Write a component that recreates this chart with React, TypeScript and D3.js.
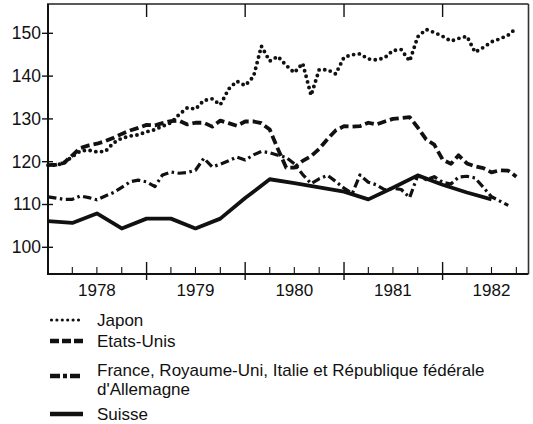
import React, { useEffect, useRef } from 'react';
import * as d3 from 'd3';

// monthly series, Jan 1978 .. Oct 1982
const japon = [
  119.2, 119.2, 119.7, 121.2, 122.5, 122.7, 122.3, 122.4, 124.4, 125.5, 126.0, 126.3,
  127.0, 127.5, 128.3, 129.1, 131.0, 132.6, 132.3, 134.3, 134.7, 133.3, 137.0, 138.8,
  137.8, 139.9, 147.0, 143.5, 144.6, 142.5, 140.8, 143.0, 135.5, 141.5, 141.5, 140.5,
  144.4, 145.0, 145.2, 144.0, 143.8, 144.3, 146.0, 146.2, 143.5, 149.2, 150.9, 150.2,
  149.3, 148.2, 148.8, 149.3, 145.6, 146.7, 148.0, 148.7, 149.6, 151.2,
];
const etatsUnis = [
  119.2, 119.3, 119.7, 121.5, 123.2, 123.8, 124.2, 124.8, 125.6, 126.5, 127.3, 127.9,
  128.6, 128.5, 129.0, 129.5, 129.6, 128.7, 129.1, 129.1, 128.2, 129.6, 129.0, 128.4,
  129.4, 129.4, 129.0, 127.5, 123.0, 118.6, 118.6, 120.2, 121.3, 123.0, 125.3, 127.3,
  128.3, 128.2, 128.3, 129.1, 128.7, 129.4, 130.0, 130.2, 130.4, 128.0, 125.2, 124.0,
  120.5, 119.5, 121.5, 119.6, 118.9, 118.5, 117.5, 118.0, 117.9, 116.5,
];
const europe = [
  111.8, 111.5, 111.2, 111.2, 112.0, 111.6, 111.1, 112.0, 112.8, 114.0, 115.3, 115.7,
  115.3, 114.2, 116.9, 117.6, 117.3, 117.5, 118.0, 120.8, 118.8, 119.4, 120.2, 121.1,
  120.4, 121.6, 122.4, 122.1, 121.5, 121.0, 119.5, 117.0, 114.9, 116.0, 116.8, 115.4,
  113.8, 112.6, 116.9, 115.2, 114.6, 113.4, 113.8, 113.5, 111.6, 116.8, 115.8, 116.5,
  115.2, 114.8, 116.4, 116.6, 116.2, 114.0, 111.8, 110.8, 109.8,
];
// quarterly, Q1 1978 .. Q3 1982
const suisse = [
  106.1, 105.7, 107.9, 104.4, 106.7, 106.7, 104.4, 106.7, 111.5, 115.9,
  115.0, 114.0, 113.0, 111.2, 113.9, 116.8, 114.6, 112.8, 111.2,
];

const months = d3.timeMonth.range(new Date(1978, 0, 1), new Date(1982, 10, 1));
const quarters = d3.timeMonth.every(3)!.range(new Date(1978, 0, 1), new Date(1982, 7, 2));

const yearLabels = ['1978', '1979', '1980', '1981', '1982'];
const yTicks = [100, 110, 120, 130, 140, 150];

const FONT = '"Liberation Sans", Arial, Helvetica, sans-serif';

const App: React.FC = () => {
  const svgRef = useRef<SVGSVGElement>(null);

  useEffect(() => {
    if (!svgRef.current) return;
    const svg = d3.select(svgRef.current);
    svg.selectAll('*').remove();

    const left = 48, right = 528.5, top = 4, bottom = 274;

    const x = d3.scaleTime()
      .domain([new Date(1978, 0, 1), new Date(1982, 10, 15)])
      .range([left, right]);
    const y = d3.scaleLinear()
      .domain([93.76, 156.85])
      .range([bottom, top]);

    // frame
    svg.append('line').attr('x1', left).attr('x2', left).attr('y1', top).attr('y2', bottom + 1)
      .attr('stroke', '#111').attr('stroke-width', 2);
    svg.append('line').attr('x1', left - 1).attr('x2', right).attr('y1', bottom).attr('y2', bottom)
      .attr('stroke', '#111').attr('stroke-width', 2);
    svg.append('line').attr('x1', left - 1).attr('x2', right).attr('y1', top).attr('y2', top)
      .attr('stroke', '#222').attr('stroke-width', 1.5);
    svg.append('line').attr('x1', right).attr('x2', right).attr('y1', top).attr('y2', bottom)
      .attr('stroke', '#333').attr('stroke-width', 1.6);

    // y ticks
    const yg = svg.append('g');
    yTicks.forEach(t => {
      yg.append('line').attr('x1', left - 6).attr('x2', left + 5)
        .attr('y1', y(t)).attr('y2', y(t)).attr('stroke', '#111').attr('stroke-width', 1.4);
      yg.append('text').attr('x', left - 7).attr('y', y(t))
        .attr('text-anchor', 'end').attr('dominant-baseline', 'central')
        .attr('font-family', FONT).attr('font-size', 17.5).attr('fill', '#111')
        .text(t);
    });

    // x ticks
    const quarterTicks = d3.timeMonth.every(3)!.range(new Date(1978, 0, 2), new Date(1982, 11, 1));
    quarterTicks.forEach(d => {
      const major = d.getMonth() === 0;
      const xp = x(d);
      svg.append('line').attr('x1', xp).attr('x2', xp)
        .attr('y1', major ? bottom - 12 : bottom - 7).attr('y2', major ? bottom + 6 : bottom)
        .attr('stroke', '#111').attr('stroke-width', major ? 1.4 : 1.1);
      if (major) {
        svg.append('line').attr('x1', xp).attr('x2', xp)
          .attr('y1', top).attr('y2', top + 13)
          .attr('stroke', '#111').attr('stroke-width', 1.4);
      }
    });
    yearLabels.forEach(label => {
      svg.append('text')
        .attr('x', x(new Date(+label, 6, 1)))
        .attr('y', 296)
        .attr('text-anchor', 'middle')
        .attr('font-family', FONT).attr('font-size', 17).attr('fill', '#111')
        .text(label);
    });

    const line = d3.line<[Date, number]>()
      .x(d => x(d[0]))
      .y(d => y(d[1]));

    const series = [
      { data: europe.map((v, i) => [months[i], v] as [Date, number]), dash: '8.5 3.5 2.5 3.5', width: 3.2, cap: 'butt' },
      { data: etatsUnis.map((v, i) => [months[i], v] as [Date, number]), dash: '9 4', width: 3.8, cap: 'butt' },
      { data: suisse.map((v, i) => [quarters[i], v] as [Date, number]), dash: null, width: 3.8, cap: 'butt' },
      { data: japon.map((v, i) => [months[i], v] as [Date, number]), dash: '0 5.8', width: 3.9, cap: 'round' },
    ];
    series.forEach(s => {
      svg.append('path')
        .datum(s.data)
        .attr('d', line)
        .attr('fill', 'none')
        .attr('stroke', '#111')
        .attr('stroke-width', s.width)
        .attr('stroke-linecap', s.cap)
        .attr('stroke-linejoin', 'round')
        .attr('stroke-dasharray', s.dash);
    });

    // legend
    const legend = [
      { lines: ['Japon'], dash: '0 5.4', width: 3.2, cap: 'round', sy: 320, ty: 326 },
      { lines: ['Etats-Unis'], dash: '9 3', width: 4.5, cap: 'butt', sy: 341, ty: 347 },
      { lines: ['France, Royaume-Uni, Italie et République fédérale', "d'Allemagne"], dash: '10 3 4 3', width: 4.5, cap: 'butt', sy: 376, ty: 376 },
      { lines: ['Suisse'], dash: null, width: 4.5, cap: 'butt', sy: 414, ty: 420 },
    ];
    legend.forEach(l => {
      svg.append('line')
        .attr('x1', l.cap === 'round' ? 51.5 : 50).attr('x2', 83)
        .attr('y1', l.sy).attr('y2', l.sy)
        .attr('stroke', '#111').attr('stroke-width', l.width)
        .attr('stroke-linecap', l.cap)
        .attr('stroke-dasharray', l.dash);
      l.lines.forEach((t, i) => {
        svg.append('text')
          .attr('x', 97).attr('y', l.ty + i * 19)
          .attr('font-family', FONT).attr('font-size', 17).attr('fill', '#111')
          .text(t);
      });
    });
  }, []);

  return (
    <div style={{ position: 'absolute', left: 0, top: 0 }}>
      <svg ref={svgRef} width={533} height={424} style={{ display: 'block', background: '#fff' }} />
    </div>
  );
};

export default App;
